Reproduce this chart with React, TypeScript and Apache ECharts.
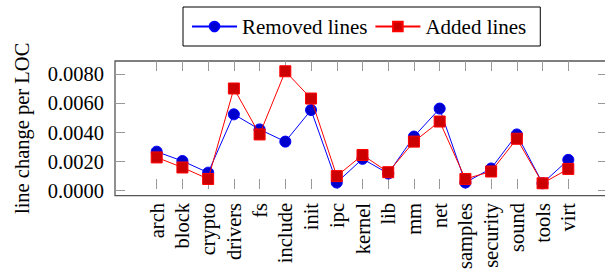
import React, { useEffect, useRef } from "react";
import * as echarts from "echarts";

const categories = [
  "arch", "block", "crypto", "drivers", "fs", "include", "init", "ipc", "kernel",
  "lib", "mm", "net", "samples", "security", "sound", "tools", "virt",
];
const removedLines = [
  0.0026, 0.00195, 0.00114, 0.0052, 0.00415, 0.0033, 0.0055, 0.00045, 0.0021,
  0.00108, 0.00365, 0.0056, 0.00045, 0.00143, 0.0038, 0.0004, 0.00203,
];
const addedLines = [
  0.0022, 0.0015, 0.0007, 0.0070, 0.0038, 0.0082, 0.0063, 0.0009, 0.00237,
  0.00117, 0.0033, 0.0047, 0.0007, 0.00122, 0.0035, 0.0004, 0.0014,
];
const yTickMin = 0;
const yTickMax = 0.008;
const yTickStep = 0.002;

const FONT = "Liberation Serif";
const Y_MIN = -0.000344;
const Y_MAX = 0.008914;
const TICK = { color: "#999", width: 1 };

export default function App() {
  const ref = useRef<HTMLDivElement>(null);
  useEffect(() => {
    if (!ref.current) return;
    const chart = echarts.init(ref.current, null, { renderer: "svg" });
    const hiddenX = { type: "value" as const, show: false };
    chart.setOption({
      animation: false,
      textStyle: { fontFamily: FONT },
      grid: [
        {
          left: 115, top: 61, width: 493, height: 134.7,
          show: true, borderColor: "#555", borderWidth: 1.3,
          backgroundColor: "transparent",
        },
        { left: 156.7, top: 61, width: 411.6, height: 134.7 },
        { left: 115, top: 74.3, width: 493, height: 116.4 },
      ],
      legend: {
        left: 183,
        top: 7,
        padding: [9, 14, 9, 8],
        borderColor: "#000",
        borderWidth: 1,
        itemGap: 7,
        itemWidth: 45,
        itemHeight: 12,
        textStyle: { fontFamily: FONT, fontSize: 21, color: "#000" },
        data: ["Removed lines", "Added lines"],
      },
      xAxis: [
        { ...hiddenX, gridIndex: 0 },
        {
          type: "category",
          gridIndex: 1,
          position: "bottom",
          data: categories,
          boundaryGap: false,
          axisLine: { show: false },
          splitLine: { show: false },
          axisTick: { show: true, inside: true, length: 10, interval: 0, lineStyle: TICK },
          axisLabel: {
            show: true, interval: 0, rotate: 90, margin: 9,
            fontFamily: FONT, fontSize: 20.5, color: "#000",
          },
        },
        {
          type: "category",
          gridIndex: 1,
          position: "top",
          data: categories,
          boundaryGap: false,
          axisLine: { show: false },
          splitLine: { show: false },
          axisTick: { show: true, inside: true, length: 10, interval: 0, lineStyle: TICK },
          axisLabel: { show: false },
        },
        { ...hiddenX, gridIndex: 2 },
      ],
      yAxis: [
        {
          type: "value",
          gridIndex: 0,
          min: Y_MIN,
          max: Y_MAX,
          name: "line change per LOC",
          nameLocation: "middle",
          nameGap: 83,
          nameTextStyle: { fontFamily: FONT, fontSize: 20.5, color: "#000" },
          axisLine: { show: false },
          axisTick: { show: false },
          axisLabel: { show: false },
          splitLine: { show: false },
        },
        {
          type: "value",
          gridIndex: 1,
          min: Y_MIN,
          max: Y_MAX,
          show: false,
        },
        {
          type: "value",
          gridIndex: 2,
          position: "left",
          min: yTickMin,
          max: yTickMax,
          interval: yTickStep,
          axisLine: { show: false },
          splitLine: { show: false },
          axisTick: { show: true, inside: true, length: 10, lineStyle: TICK },
          axisLabel: {
            show: true, margin: 11,
            formatter: (v: number) => v.toFixed(4),
            fontFamily: FONT, fontSize: 20.5, color: "#000",
          },
        },
        {
          type: "value",
          gridIndex: 2,
          position: "right",
          min: yTickMin,
          max: yTickMax,
          interval: yTickStep,
          axisLine: { show: false },
          splitLine: { show: false },
          axisTick: { show: true, inside: true, length: 10, lineStyle: TICK },
          axisLabel: { show: false },
        },
      ],
      series: [
        {
          name: "Removed lines",
          type: "line",
          xAxisIndex: 1,
          yAxisIndex: 1,
          data: removedLines,
          clip: false,
          symbol: "circle",
          symbolSize: 11,
          lineStyle: { color: "#0000ff", width: 1 },
          itemStyle: { color: "#0000cc", borderColor: "#0000ff", borderWidth: 1 },
          z: 2,
        },
        {
          name: "Added lines",
          type: "line",
          xAxisIndex: 1,
          yAxisIndex: 1,
          data: addedLines,
          clip: false,
          symbol: "rect",
          symbolSize: 11,
          lineStyle: { color: "#ff0000", width: 1 },
          itemStyle: { color: "#cc0000", borderColor: "#ff0000", borderWidth: 1 },
          z: 3,
        },
      ],
    });
    return () => chart.dispose();
  }, []);
  return (
    <div
      style={{
        position: "fixed",
        left: 0,
        top: 0,
        width: 605,
        height: 272,
        overflow: "hidden",
        background: "#fff",
      }}
    >
      <div ref={ref} style={{ width: 620, height: 272 }} />
    </div>
  );
}
